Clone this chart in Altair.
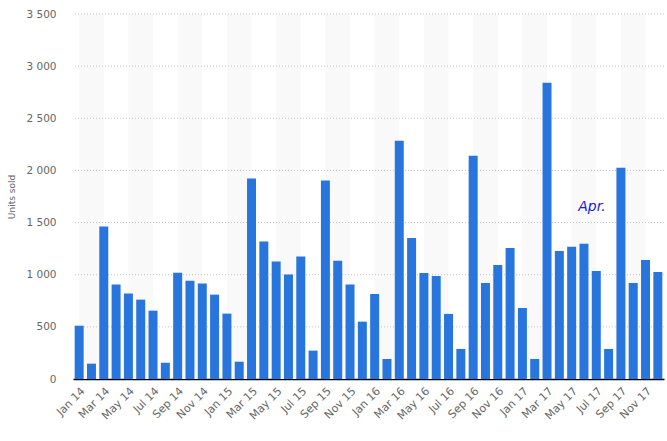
import altair as alt
import pandas as pd

month_names = ["Jan", "Feb", "Mar", "Apr", "May", "Jun", "Jul", "Aug", "Sep", "Oct", "Nov", "Dec"]
years = ["14", "15", "16", "17"]
months = [f"{m} {y}" for y in years for m in month_names]
units = [511, 147, 1462, 905, 819, 761, 655, 156, 1020, 943, 915, 809,
         627, 166, 1922, 1318, 1126, 1001, 1174, 272, 1903, 1135, 905, 550,
         816, 192, 2284, 1353, 1017, 988, 624, 288, 2140, 921, 1094, 1257,
         681, 192, 2840, 1228, 1267, 1296, 1036, 288, 2025, 921, 1142, 1027]
y_ticks = [0, 500, 1000, 1500, 2000, 2500, 3000, 3500]
grid_values = y_ticks[1:]
label_months = months[::2]
stripe_start = [0.5 + 4 * i for i in range(12)]
stripe_end = [s + 2 for s in stripe_start]
note_month = ["Jun 17"]
note_value = [1650]
note_text = ["Apr."]

df = pd.DataFrame({"month": months, "units": units})
stripes_df = pd.DataFrame({"s": stripe_start, "e": stripe_end})
grid_df = pd.DataFrame({"v": grid_values})
note_df = pd.DataFrame({"month": note_month, "v": note_value, "t": note_text})

FONT = "DejaVu Sans"
y_scale = alt.Scale(domain=[0, 3500], nice=False)

y_axis = alt.Axis(
    values=y_ticks,
    format=",.0f",
    labelExpr="replace(datum.label, ',', ' ')",
    domain=False,
    ticks=False,
    grid=False,
    labelColor="#666666",
    labelFont=FONT,
    labelFontSize=10.5,
    labelPadding=17,
    title="Units sold",
    titleFont=FONT,
    titleFontSize=9,
    titleFontWeight="normal",
    titleColor="#666666",
    titlePadding=9,
)

stripes = alt.Chart(stripes_df).mark_rect(color="#f9f9f9").encode(
    x=alt.X("s:Q", scale=alt.Scale(domain=[0, 48], nice=False, zero=False), axis=None),
    x2="e:Q",
    y=alt.datum(0, scale=y_scale),
    y2=alt.datum(3500),
)

grid = alt.Chart(grid_df).mark_rule(color="#c4c4c4", strokeDash=[1, 2], strokeWidth=1).encode(
    y=alt.Y("v:Q", scale=y_scale, axis=y_axis)
)

x_enc = alt.X(
    "month:N",
    sort=months,
    scale=alt.Scale(paddingInner=0.27, paddingOuter=0.135),
    axis=alt.Axis(
        values=label_months,
        labelAngle=-45,
        title=None,
        ticks=False,
        domainColor="#000000",
        domainWidth=1.5,
        labelColor="#666666",
        labelFont=FONT,
        labelFontSize=11,
        labelPadding=6,
    ),
)

bars = alt.Chart(df).mark_bar(color="#2876dd").encode(
    x=x_enc,
    y=alt.Y("units:Q", scale=y_scale, axis=y_axis),
)

note = alt.Chart(note_df).mark_text(
    color="#1a1adb", font=FONT, fontSize=14, fontStyle="italic", dx=8
).encode(
    x=alt.X("month:N", sort=months),
    y=alt.Y("v:Q", scale=y_scale, axis=y_axis),
    text="t:N",
)

inner = alt.layer(grid, bars, note)
chart = (
    alt.layer(stripes, inner)
    .resolve_scale(x="independent")
    .properties(
        width=591,
        height=365,
        autosize="none",
        padding={"left": 73, "top": 14, "right": 3, "bottom": 62},
        background="#ffffff",
    )
    .configure_view(stroke=None)
)

chart.save("out.html", embed_options={"renderer": "svg", "actions": False})
